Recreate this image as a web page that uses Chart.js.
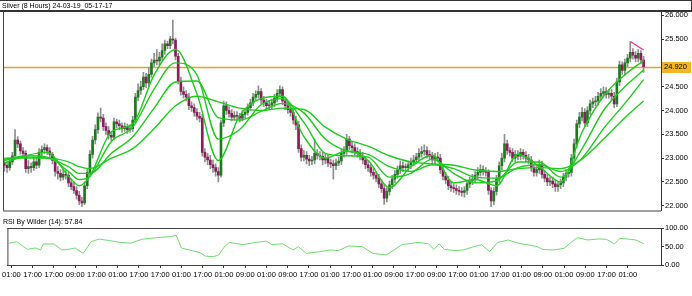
<!DOCTYPE html>
<html>
<head>
<meta charset="utf-8">
<title>Silver (8 Hours)</title>
<script src="https://cdn.jsdelivr.net/npm/chart.js@4.4.1/dist/chart.umd.min.js"></script>
<style>
  body { margin: 0; background: #fff; width: 692px; height: 296px; overflow: hidden; position: relative; }
  canvas { position: absolute; left: 0; }
  #mainChart { top: 0; }
  #rsiChart { top: 216px; }
  #titleBar { position: absolute; left: 0; top: 0; width: 689px; height: 9px; border-top: 1px solid #333; border-bottom: 2px solid #333; border-right: 1px solid #333;
    font: 7px 'Liberation Sans Narrow', 'Liberation Sans', sans-serif; line-height: 9px; padding-left: 2px; color: #000; z-index: 2; }
  #rsiLabel { position: absolute; left: 3px; top: 217px; font: 7px 'Liberation Sans', sans-serif; line-height: 9px; color: #000; }
</style>
</head>
<body>
<canvas id="mainChart" width="692" height="216"></canvas>
<canvas id="rsiChart" width="692" height="80"></canvas>
<div id="titleBar">Silver (8 Hours) 24-03-19_05-17-17</div>
<div id="rsiLabel">RSI By Wilder (14): 57.84</div>
<script>
// candles, 8 hour bars
const opens = [
  22.90,22.85,22.80,22.92,23.05,23.38,23.30,23.15,23.10,22.78,
  22.82,22.80,22.92,22.85,23.12,23.18,23.22,23.15,23.08,22.95,
  22.72,22.68,22.60,22.66,22.64,22.48,22.40,22.32,22.22,22.10,
  22.06,22.42,22.70,23.08,23.38,23.60,23.86,23.84,23.66,23.58,
  23.48,23.44,23.76,23.72,23.68,23.62,23.66,23.60,23.62,23.80,
  24.28,24.42,24.50,24.70,24.58,24.76,25.00,25.06,25.04,25.12,
  25.26,25.40,25.36,25.50,25.48,25.14,24.62,24.40,24.34,24.28,
  24.10,24.06,23.96,23.88,23.84,23.12,23.02,22.96,22.86,22.80,
  22.72,22.64,23.74,24.10,24.00,23.94,23.86,23.90,23.88,23.84,
  23.92,23.96,24.06,24.16,24.28,24.34,24.40,24.22,24.16,24.10,
  24.12,24.16,24.26,24.36,24.44,24.20,24.10,24.02,23.96,23.80,
  23.70,23.20,23.02,23.06,22.98,22.94,22.96,23.10,23.06,23.04,
  22.96,23.00,22.90,22.88,22.84,22.90,22.94,23.10,23.16,23.40,
  23.26,23.22,23.14,23.10,23.04,22.96,22.86,22.80,22.70,22.64,
  22.58,22.46,22.36,22.16,22.30,22.44,22.56,22.66,22.76,22.84,
  22.80,22.80,22.86,22.92,22.96,23.02,23.10,23.14,23.16,23.08,
  23.04,22.96,23.02,23.00,22.76,22.62,22.54,22.42,22.38,22.36,
  22.32,22.30,22.28,22.32,22.46,22.52,22.56,22.64,22.70,22.76,
  22.72,22.70,22.32,22.10,22.30,22.56,22.84,23.00,23.30,23.16,
  23.12,23.00,23.08,23.04,23.12,23.06,23.00,22.96,22.80,22.70,
  22.76,22.86,22.66,22.58,22.50,22.52,22.46,22.40,22.44,22.48,
  22.60,22.68,22.70,23.00,23.30,23.72,23.86,23.96,23.74,24.00,
  24.14,24.18,24.20,24.30,24.36,24.40,24.34,24.36,24.30,24.14,
  24.60,24.96,24.84,25.00,25.10,25.22,25.16,25.10,25.20,25.06
];
const highs = [
  22.98,22.92,23.00,23.12,23.60,23.45,23.36,23.22,23.16,22.95,
  22.90,23.00,23.00,23.20,23.26,23.30,23.28,23.22,23.12,23.00,
  22.82,22.76,22.78,22.74,22.70,22.56,22.50,22.40,22.30,22.18,
  22.50,22.78,23.16,23.46,23.70,23.95,24.05,23.92,23.74,23.66,
  23.56,23.84,23.82,23.80,23.74,23.74,23.72,23.70,23.88,24.36,
  24.56,24.62,24.80,24.78,24.90,25.08,25.20,25.28,25.22,25.40,
  25.48,25.46,25.56,25.90,25.52,25.20,24.70,24.50,24.42,24.36,
  24.18,24.14,24.04,23.96,23.92,23.20,23.10,23.06,22.96,22.88,
  22.80,23.80,24.20,24.18,24.08,24.02,23.98,23.98,23.94,24.00,
  24.04,24.14,24.24,24.36,24.42,24.52,24.46,24.30,24.24,24.20,
  24.24,24.34,24.44,24.52,24.50,24.28,24.18,24.10,24.04,23.88,
  23.78,23.28,23.16,23.14,23.06,23.04,23.40,23.18,23.14,23.12,
  23.08,23.08,22.98,22.96,22.98,23.02,23.18,23.24,23.50,23.46,
  23.34,23.30,23.22,23.18,23.12,23.04,22.94,22.88,22.78,22.72,
  22.66,22.54,22.44,22.38,22.52,22.64,22.74,22.84,22.94,22.92,
  22.88,22.94,23.00,23.06,23.10,23.20,23.24,23.28,23.24,23.16,
  23.12,23.10,23.12,23.08,22.84,22.70,22.62,22.50,22.46,22.44,
  22.40,22.38,22.40,22.54,22.60,22.66,22.72,22.80,22.86,22.84,
  22.80,22.76,22.38,22.38,22.64,22.92,23.10,23.50,23.38,23.22,
  23.20,23.16,23.16,23.20,23.18,23.14,23.08,23.04,22.88,22.84,
  22.96,22.94,22.74,22.66,22.60,22.60,22.54,22.50,22.56,22.68,
  22.76,22.78,23.08,23.40,23.80,23.96,24.06,24.04,24.08,24.22,
  24.26,24.30,24.38,24.46,24.50,24.48,24.44,24.44,24.38,24.68,
  25.04,25.02,25.08,25.18,25.45,25.30,25.24,25.28,25.26,25.14
];
const lows = [
  22.72,22.70,22.74,22.86,23.00,23.22,23.08,23.02,22.70,22.68,
  22.70,22.74,22.78,22.80,23.04,23.10,23.08,23.00,22.88,22.62,
  22.56,22.52,22.54,22.56,22.40,22.34,22.26,22.14,22.02,21.98,
  22.02,22.36,22.64,23.00,23.30,23.52,23.76,23.58,23.50,23.40,
  23.36,23.38,23.64,23.60,23.54,23.56,23.52,23.54,23.56,23.74,
  24.20,24.34,24.44,24.48,24.50,24.70,24.92,24.96,24.96,25.04,
  25.18,25.30,25.30,25.40,25.06,24.56,24.32,24.26,24.20,24.02,
  23.98,23.88,23.80,23.76,23.04,22.92,22.86,22.78,22.70,22.62,
  22.50,22.60,23.66,23.92,23.86,23.78,23.80,23.80,23.76,23.78,
  23.84,23.90,24.00,24.10,24.22,24.26,24.14,24.08,24.02,24.02,
  24.04,24.08,24.18,24.28,24.12,24.02,23.94,23.88,23.72,23.60,
  23.12,22.94,22.94,22.88,22.84,22.86,22.88,22.98,22.96,22.86,
  22.88,22.82,22.80,22.56,22.76,22.84,22.86,23.02,23.08,23.18,
  23.14,23.06,23.02,22.96,22.88,22.78,22.72,22.62,22.56,22.50,
  22.38,22.28,22.03,22.08,22.22,22.36,22.48,22.58,22.68,22.72,
  22.72,22.72,22.78,22.84,22.88,22.94,23.02,23.06,23.00,22.96,
  22.88,22.88,22.92,22.68,22.54,22.46,22.34,22.30,22.28,22.24,
  22.22,22.20,22.18,22.24,22.38,22.44,22.48,22.56,22.62,22.64,
  22.62,22.24,21.98,22.02,22.22,22.48,22.76,22.92,23.08,23.04,
  22.92,22.92,22.96,22.96,22.98,22.92,22.88,22.72,22.62,22.62,
  22.68,22.58,22.50,22.42,22.42,22.38,22.30,22.30,22.36,22.40,
  22.52,22.60,22.62,22.92,23.22,23.64,23.78,23.66,23.66,23.92,
  24.06,24.10,24.12,24.22,24.28,24.26,24.26,24.22,24.06,24.08,
  24.52,24.76,24.74,24.92,25.02,25.08,25.02,25.02,24.98,24.80
];
const closes = [
  22.85,22.80,22.92,23.05,23.38,23.30,23.15,23.10,22.78,22.82,
  22.80,22.92,22.85,23.12,23.18,23.22,23.15,23.08,22.95,22.72,
  22.68,22.60,22.66,22.64,22.48,22.40,22.32,22.22,22.10,22.06,
  22.42,22.70,23.08,23.38,23.60,23.86,23.84,23.66,23.58,23.48,
  23.44,23.76,23.72,23.68,23.62,23.66,23.60,23.62,23.80,24.28,
  24.42,24.50,24.70,24.58,24.76,25.00,25.06,25.04,25.12,25.26,
  25.40,25.36,25.50,25.48,25.14,24.62,24.40,24.34,24.28,24.10,
  24.06,23.96,23.88,23.84,23.12,23.02,22.96,22.86,22.80,22.72,
  22.64,23.74,24.10,24.00,23.94,23.86,23.90,23.88,23.84,23.92,
  23.96,24.06,24.16,24.28,24.34,24.40,24.22,24.16,24.10,24.12,
  24.16,24.26,24.36,24.44,24.20,24.10,24.02,23.96,23.80,23.70,
  23.20,23.02,23.06,22.98,22.94,22.96,23.10,23.06,23.04,22.96,
  23.00,22.90,22.88,22.84,22.90,22.94,23.10,23.16,23.40,23.26,
  23.22,23.14,23.10,23.04,22.96,22.86,22.80,22.70,22.64,22.58,
  22.46,22.36,22.16,22.30,22.44,22.56,22.66,22.76,22.84,22.80,
  22.80,22.86,22.92,22.96,23.02,23.10,23.14,23.16,23.08,23.04,
  22.96,23.02,23.00,22.76,22.62,22.54,22.42,22.38,22.36,22.32,
  22.30,22.28,22.32,22.46,22.52,22.56,22.64,22.70,22.76,22.72,
  22.70,22.32,22.10,22.30,22.56,22.84,23.00,23.30,23.16,23.12,
  23.00,23.08,23.04,23.12,23.06,23.00,22.96,22.80,22.70,22.76,
  22.86,22.66,22.58,22.50,22.52,22.46,22.40,22.44,22.48,22.60,
  22.68,22.70,23.00,23.30,23.72,23.86,23.96,23.74,24.00,24.14,
  24.18,24.20,24.30,24.36,24.40,24.34,24.36,24.30,24.14,24.60,
  24.96,24.84,25.00,25.10,25.22,25.16,25.10,25.20,25.06,24.92
];

// moving averages, read at every 8th bar
const maIdx  = [0,8,16,24,28,32,40,48,56,64,72,80,88,96,104,112,120,128,136,144,152,160,168,176,184,192,200,208,216,224,232,239];
const maFast = [22.90,23.05,23.12,22.62,22.42,22.62,23.55,23.72,24.75,25.28,24.35,22.95,23.90,24.25,24.30,23.45,23.00,23.15,22.95,22.38,22.82,23.06,22.48,22.55,22.42,23.08,22.82,22.50,23.55,24.30,24.75,25.05];
const maMid  = [22.95,23.05,23.02,22.72,22.55,22.62,23.35,23.65,24.45,25.00,24.75,23.40,23.60,24.12,24.25,23.75,23.10,23.05,23.02,22.60,22.68,22.98,22.68,22.48,22.52,22.92,22.92,22.60,23.20,24.00,24.50,24.85];
const maSlow = [22.98,23.02,23.00,22.82,22.68,22.68,23.10,23.45,24.05,24.60,24.62,23.85,23.80,23.98,24.15,23.95,23.40,23.15,23.08,22.82,22.72,22.86,22.78,22.60,22.58,22.80,22.86,22.72,23.00,23.62,24.15,24.65];
const maLong = [23.00,23.00,23.00,22.92,22.82,22.78,23.00,23.20,23.62,24.10,24.30,24.18,24.05,24.00,24.05,24.02,23.65,23.40,23.25,23.05,22.92,22.88,22.85,22.75,22.72,22.78,22.80,22.78,22.98,23.40,23.85,24.20];

// trend line drawn on the last highs
const trendIdx = [234, 239];
const trendVals = [25.45, 25.27];

const lastPrice = 24.92;
const priceTicks = [22, 22.5, 23, 23.5, 24, 24.5, 25.5, 26];

// RSI(14)
const rsiIdx  = [0,3,7,10,12,13,17,20,23,25,28,31,34,38,42,46,50,53,57,61,63,65,68,72,74,77,79,81,83,88,93,97,99,103,107,109,112,117,121,124,128,133,137,142,145,148,154,158,160,162,164,168,171,175,178,181,184,188,192,195,199,201,205,209,212,214,218,222,225,228,230,234,236,238,239];
const rsiVals = [58.6,63,42.3,46,40.5,57,57,40.5,43,46,31.5,63,70,66,61,59,69.4,72,74.8,76.6,81,46,40.5,33.3,24,22.5,27,47.7,61,55,61,64.6,55,57.6,40.5,49.5,31.5,36,40.5,39,51.4,49.5,31.5,27,40.5,55,61,57.6,42,57,42,39,40.5,49.5,55,36,61,67.6,58.6,55,49.5,42,40.5,45,63,73.9,67.6,70.4,69.4,57,72,69.4,67.6,61,57.84];
const rsiTicks = [0, 30, 50, 70, 100];

const timeLabels = ['01:00','17:00','17:00','09:00','17:00','01:00','17:00','17:00','01:00','17:00','01:00','09:00','01:00','09:00','17:00','01:00','17:00','01:00','09:00','17:00','09:00','17:00','01:00','17:00','01:00','09:00','01:00','09:00','17:00','01:00'];
const labelStart = 1, labelStep = 8;

// x slots: bars plus a little empty space on the right
const slotCount = 246;
const slots = Array.from({ length: slotCount }, (_, i) => i);

const narrow = "'Liberation Sans Narrow', 'Liberation Sans', sans-serif";
const regular = "'Liberation Sans', sans-serif";

function sparse(idx, vals) {
  const arr = new Array(slotCount).fill(null);
  idx.forEach((k, j) => { arr[k] = vals[j]; });
  return arr;
}

const wicks = lows.map((l, i) => [l, highs[i]]);
const bodies = opens.map((o, i) => [o, closes[i]]);
const bodyColors = opens.map((o, i) => closes[i] >= o ? '#1f7a1f' : '#8a1d5a');

function maLine(label, vals) {
  return { type: 'line', label: label, data: sparse(maIdx, vals), borderColor: '#1dcc1d', borderWidth: 1.4,
    pointRadius: 0, spanGaps: true, cubicInterpolationMode: 'monotone', order: 0 };
}

// frame lines + last price line
const framePlugin = {
  id: 'frame',
  beforeDatasetsDraw(chart) {
    if (chart.canvas.id !== 'mainChart') return;
    const { ctx, chartArea: a, scales: { y } } = chart;
    const py = Math.round(y.getPixelForValue(lastPrice)) + 0.5;
    ctx.save();
    ctx.strokeStyle = '#e8a02a';
    ctx.lineWidth = 1.5;
    ctx.beginPath(); ctx.moveTo(a.left, py); ctx.lineTo(a.right, py); ctx.stroke();
    ctx.restore();
  },
  afterDraw(chart) {
    const { ctx, chartArea: a } = chart;
    ctx.save();
    ctx.strokeStyle = '#444';
    ctx.lineWidth = 1;
    ctx.beginPath();
    ctx.moveTo(a.left + 0.5, a.top); ctx.lineTo(a.left + 0.5, a.bottom);
    ctx.moveTo(a.left, a.bottom + 0.5); ctx.lineTo(a.right, a.bottom + 0.5);
    ctx.moveTo(a.left, a.top + 0.5); ctx.lineTo(a.right, a.top + 0.5);
    ctx.stroke();
    if (chart.canvas.id === 'mainChart') {
      const y = chart.scales.y;
      const py = y.getPixelForValue(lastPrice);
      ctx.fillStyle = '#f4b526';
      ctx.fillRect(a.right + 1, Math.round(py) - 5, 29, 11);
      ctx.fillStyle = '#000';
      ctx.font = '7.5px ' + narrow;
      ctx.textBaseline = 'middle';
      ctx.fillText(lastPrice.toFixed(3), a.right + 3, py + 0.5);
    }
    ctx.restore();
  }
};

new Chart(document.getElementById('mainChart'), {
  type: 'bar',
  data: {
    labels: slots,
    datasets: [
      maLine('MA fast', maFast),
      maLine('MA mid', maMid),
      maLine('MA slow', maSlow),
      maLine('MA long', maLong),
      { type: 'line', label: 'trend', data: sparse(trendIdx, trendVals), borderColor: '#ff2d8c', borderWidth: 1.3,
        pointRadius: 0, spanGaps: true, order: 0 },
      { label: 'body', data: bodies, backgroundColor: bodyColors, barThickness: 2, minBarLength: 1, grouped: false, order: 1 },
      { label: 'wick', data: wicks, backgroundColor: '#8f8f8f', barThickness: 1, grouped: false, order: 2 }
    ]
  },
  options: {
    responsive: false,
    animation: false,
    layout: { padding: { left: 3, top: 11, right: 0, bottom: 2 } },
    plugins: { legend: { display: false }, tooltip: { enabled: false } },
    scales: {
      x: { display: false, offset: true },
      y: {
        position: 'right', min: 21.9, max: 26.09,
        afterFit(s) { s.width = 31; },
        afterBuildTicks(s) { s.ticks = priceTicks.map(v => ({ value: v })); },
        ticks: { color: '#000', padding: 1, font: { family: narrow, size: 7.5 }, callback: v => Number(v).toFixed(3) },
        grid: { drawOnChartArea: false, tickLength: 3, color: '#333' },
        border: { color: '#333' }
      }
    }
  },
  plugins: [framePlugin]
});

new Chart(document.getElementById('rsiChart'), {
  type: 'line',
  data: {
    labels: slots,
    datasets: [{ label: 'RSI', data: sparse(rsiIdx, rsiVals), borderColor: '#6fdc6f', borderWidth: 1,
      pointRadius: 0, spanGaps: true, tension: 0 }]
  },
  options: {
    responsive: false,
    animation: false,
    layout: { padding: { left: 3, top: 12, right: 0, bottom: 0 } },
    plugins: { legend: { display: false }, tooltip: { enabled: false } },
    scales: {
      x: {
        offset: true,
        afterFit(s) { s.height = 31; },
        afterBuildTicks(s) {
          s.ticks = s.ticks.filter(t => t.value >= labelStart && (t.value - labelStart) % labelStep === 0 &&
            (t.value - labelStart) / labelStep < timeLabels.length);
        },
        ticks: { autoSkip: false, maxRotation: 0, padding: 2, color: '#000', font: { family: narrow, size: 7.5 },
          callback: v => timeLabels[(v - labelStart) / labelStep] },
        grid: { drawOnChartArea: false, offset: false, tickLength: 3, color: '#333' },
        border: { color: '#333' }
      },
      y: {
        position: 'right', min: 0, max: 100,
        afterFit(s) { s.width = 31; },
        afterBuildTicks(s) { s.ticks = rsiTicks.map(v => ({ value: v })); },
        ticks: { color: '#000', padding: 1, font: { family: regular, size: 7.5 },
          callback: v => (v === 30 || v === 70) ? '' : Number(v).toFixed(2) },
        grid: { color: c => (c.tick && (c.tick.value === 30 || c.tick.value === 70)) ? '#c4c4c4' : 'rgba(0,0,0,0)',
          tickColor: '#333', tickLength: 3 },
        border: { color: '#333' }
      }
    }
  },
  plugins: [framePlugin]
});
</script>
</body>
</html>
